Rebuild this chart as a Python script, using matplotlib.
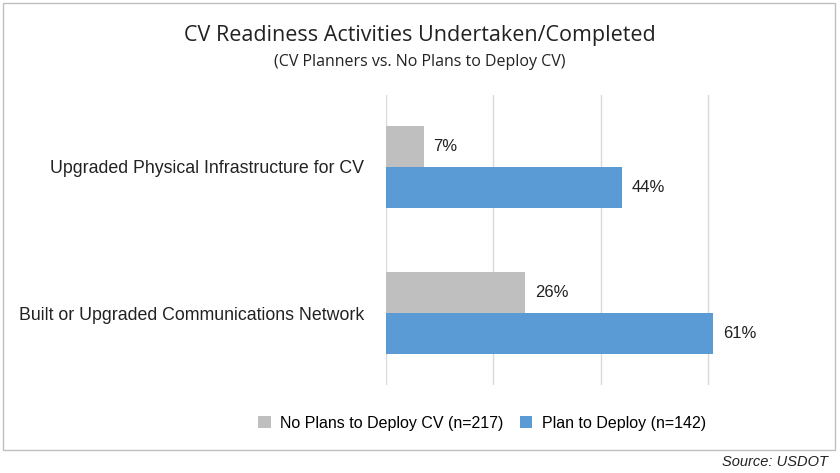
import matplotlib
matplotlib.use("Agg")
import matplotlib.pyplot as plt
from matplotlib.patches import Rectangle

categories = ["Upgraded Physical Infrastructure for CV", "Built or Upgraded Communications Network"]
no_plans = [7, 26]
plan = [44, 61]
series_names = ["No Plans to Deploy CV (n=217)", "Plan to Deploy (n=142)"]

fig = plt.figure(figsize=(8.4, 4.73), dpi=100)
fig.patches.append(Rectangle((3/840, 1-450/473), 832/840, 447/473, transform=fig.transFigure,
                             fill=False, edgecolor="#BFBFBF", lw=1))
ax = fig.add_axes([386/840, 1-385/473, 429/840, 290/473])
h = 0.28
ys = [0, 1]
grey, blue = "#BFBFBF", "#5B9BD5"
b1 = ax.barh([y - h/2 for y in ys], no_plans, height=h, color=grey, label=series_names[0])
b2 = ax.barh([y + h/2 for y in ys], plan, height=h, color=blue, label=series_names[1])
for bars in (b1, b2):
    for r in bars:
        ax.text(r.get_width() + 1.8, r.get_y() + r.get_height()/2, f"{r.get_width():.0f}%",
                va="center", ha="left", fontsize=12, color="#222222", fontfamily="Liberation Sans")
ax.set_xlim(0, 80)
ax.set_ylim(1.493, -0.493)
ax.set_xticks([0, 20, 40, 60])
ax.xaxis.grid(True, color="#D9D9D9", lw=1)
ax.set_axisbelow(True)
ax.tick_params(axis="x", length=0, labelbottom=False)
ax.set_yticks(ys)
ax.set_yticklabels(categories, fontsize=12.8, fontfamily="Liberation Sans", color="#222222")
ax.tick_params(axis="y", length=0, pad=16)
for s in ax.spines.values():
    s.set_visible(False)

fig.text(420/840, 1-35/473, "CV Readiness Activities Undertaken/Completed", ha="center", va="center",
         fontsize=15.5, fontfamily="Open Sans", color="#222222")
fig.text(420/840, 1-62/473, "(CV Planners vs. No Plans to Deploy CV)", ha="center", va="center",
         fontsize=11.5, fontfamily="Open Sans", color="#222222")
fig.legend(handles=[b1, b2], loc="center", bbox_to_anchor=(482/840, 1-423/473), ncol=2, frameon=False,
           prop={"family": "Liberation Sans", "size": 11.5}, handlelength=0.8, handleheight=0.8,
           columnspacing=1.0, handletextpad=0.6)
fig.text(828/840, 1-462/473, "Source: USDOT", ha="right", va="center", fontsize=10.5,
         style="italic", fontfamily="Liberation Sans", color="#222222")
fig.savefig("out.png", dpi=100)
